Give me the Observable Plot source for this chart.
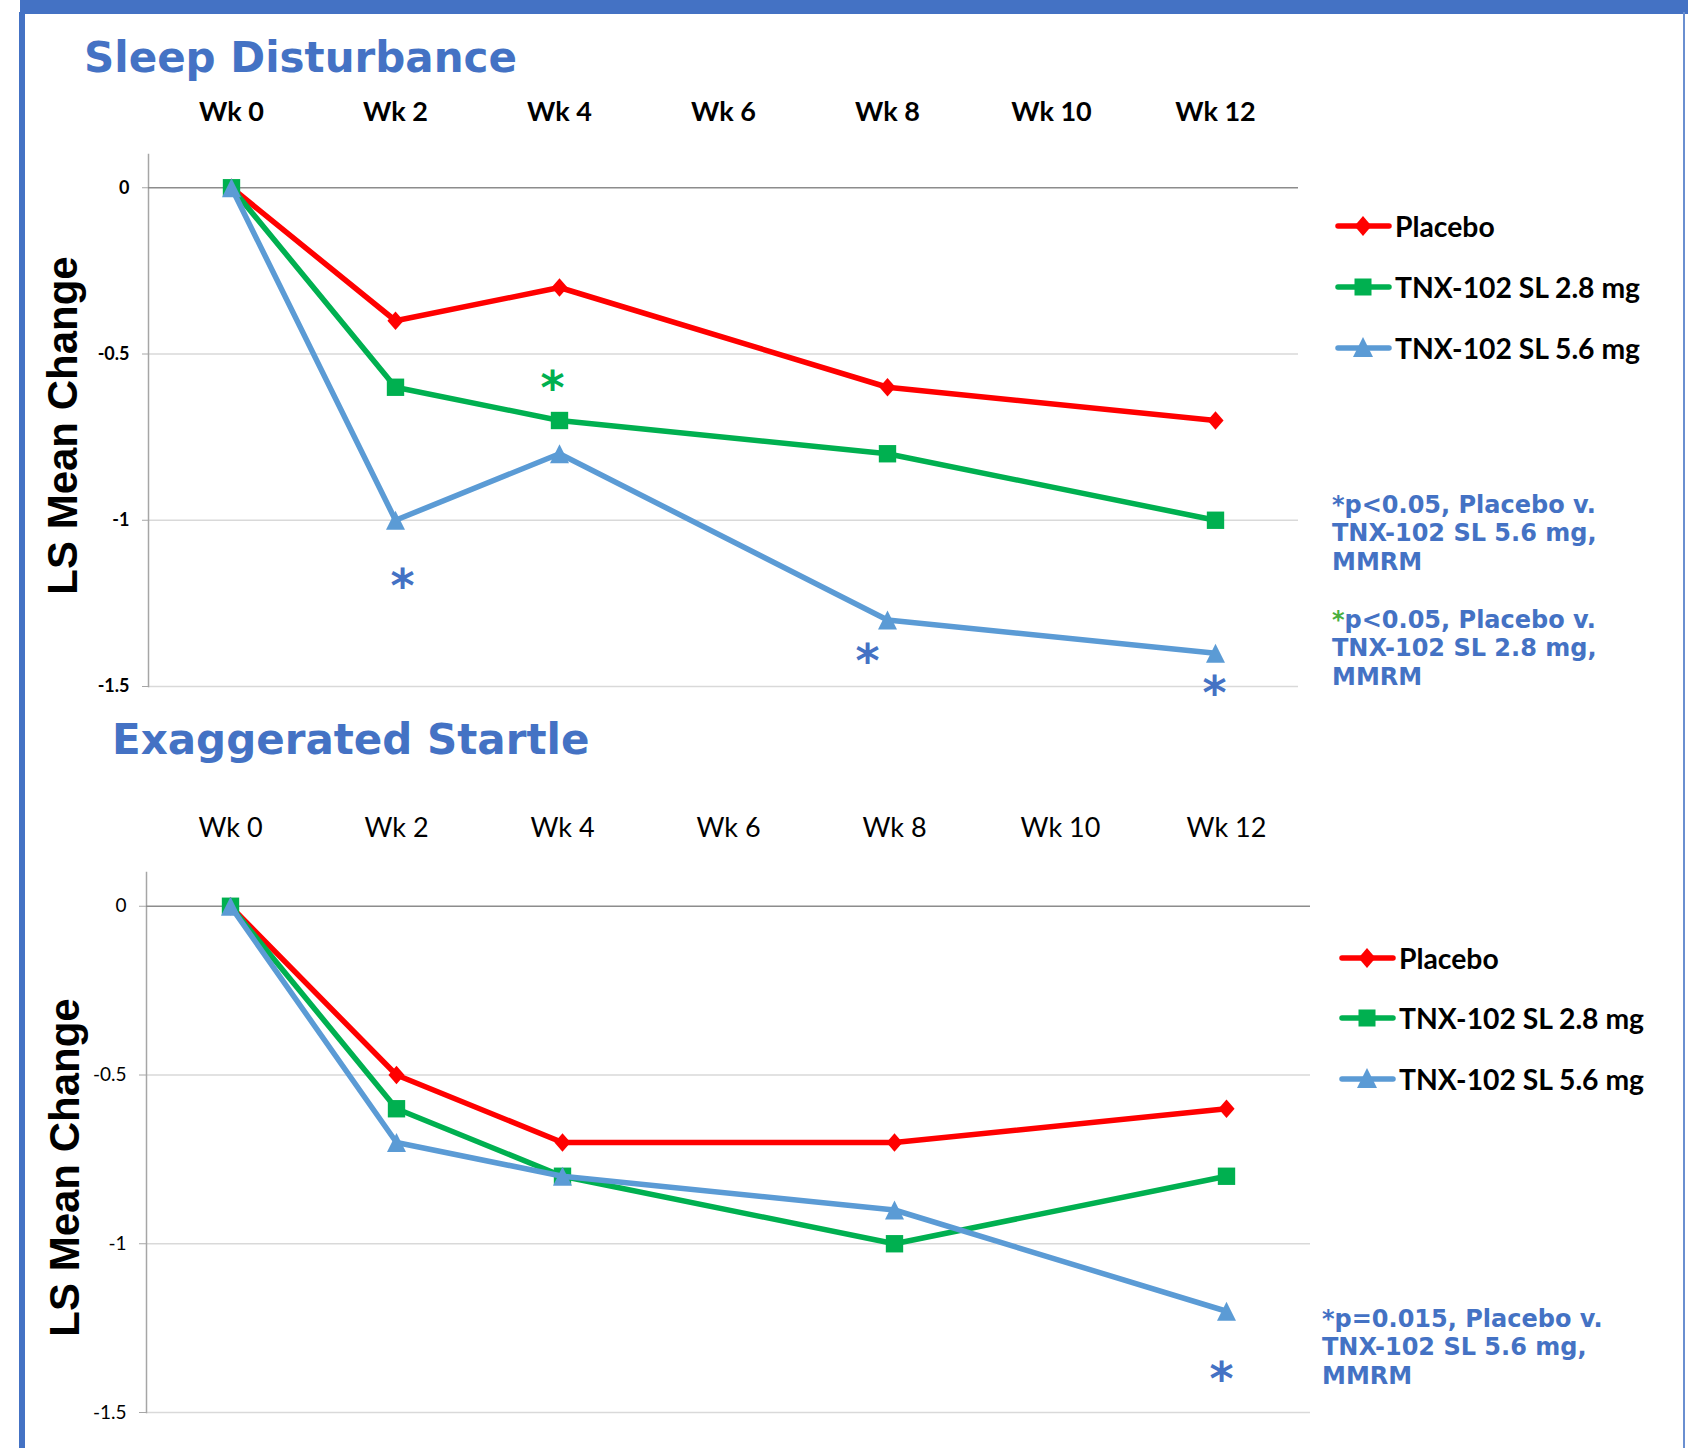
<!DOCTYPE html>
<html><head><meta charset="utf-8">
<script src="https://cdn.jsdelivr.net/npm/d3@7"></script>
<script src="https://cdn.jsdelivr.net/npm/@observablehq/plot@0.6"></script>
<style>
html,body{margin:0;padding:0;background:#fff;}
#root{position:relative;width:1688px;height:1448px;overflow:hidden;background:#fff;}
.title{position:absolute;font-family:"DejaVu Sans";font-weight:bold;color:#4472C4;font-size:42px;line-height:42px;white-space:nowrap;}
.leg{position:absolute;font-family:Lato;font-weight:bold;font-size:28.3px;color:#000;display:flex;align-items:center;height:36px;line-height:36px;white-space:nowrap;}
.leg svg{margin-right:3px;}
.note{position:absolute;font-family:"DejaVu Sans";font-weight:bold;font-size:24px;color:#4472C4;line-height:28.5px;white-space:nowrap;}
svg.plot{position:absolute;left:0;}
</style></head><body><div id="root"></div>
<script>
// ---- data ----
const weeks = ["Wk 0","Wk 2","Wk 4","Wk 6","Wk 8","Wk 10","Wk 12"];
const dataWeeks = ["Wk 0","Wk 2","Wk 4","Wk 8","Wk 12"];
const seriesNames = ["Placebo","TNX-102 SL 2.8 mg","TNX-102 SL 5.6 mg"];
const yTicks = [0,-0.5,-1,-1.5];

const sleepPlacebo = [0,-0.4,-0.3,-0.6,-0.7];
const sleep28 = [0,-0.6,-0.7,-0.8,-1.0];
const sleep56 = [0,-1.0,-0.8,-1.3,-1.4];

const startlePlacebo = [0,-0.5,-0.7,-0.7,-0.6];
const startle28 = [0,-0.6,-0.8,-1.0,-0.8];
const startle56 = [0,-0.7,-0.8,-0.9,-1.2];

const sleepStarWeeks = ["Wk 4","Wk 2","Wk 8","Wk 12"];
const sleepStarValues = [-0.586,-1.179,-1.407,-1.503];
const sleepStarSeries = [1,2,2,2];
const startleStarWeeks = ["Wk 12"];
const startleStarValues = [-1.383];
const startleStarSeries = [2];

const sleepNotes = [
  ["*p<0.05, Placebo v.","TNX-102 SL 5.6 mg,","MMRM"],
  ["*p<0.05, Placebo v.","TNX-102 SL 2.8 mg,","MMRM"]
];
const startleNotes = [["*p=0.015, Placebo v.","TNX-102 SL 5.6 mg,","MMRM"]];

// ---- styles ----
const colors = ["#FF0000","#00B050","#5B9BD5"];
const starColors = ["#FF0000","#00B050","#4472C4"];
const isoTriangle = {draw(ctx, size) {
  const s = Math.sqrt(size);
  ctx.moveTo(0, -s / 2); ctx.lineTo(s / 2, s / 2); ctx.lineTo(-s / 2, s / 2); ctx.closePath();
}};
const excelDiamond = {draw(ctx, size) {
  const s = Math.sqrt(size);
  const w = s * 0.48, h = s * 0.55;
  ctx.moveTo(0, -h); ctx.lineTo(w, 0); ctx.lineTo(0, h); ctx.lineTo(-w, 0); ctx.closePath();
}};
const symbols = [excelDiamond, "square", isoTriangle];
const symbolR = [9.5, 9.8, 10.7];

const root = document.getElementById("root");
function div(cls, html, css) {
  const d = document.createElement("div");
  if (cls) d.className = cls;
  d.innerHTML = html;
  Object.assign(d.style, css);
  root.appendChild(d);
  return d;
}

// frame decorations
div("", "", {position:"absolute", left:"20px", top:"0px", width:"1668px", height:"14px", background:"#4472C4"});
div("", "", {position:"absolute", left:"19px", top:"12px", width:"6px", height:"1436px", background:"#4472C4"});
div("", "", {position:"absolute", left:"1683px", top:"12px", width:"2px", height:"1436px", background:"#6a8fd0"});

function makeChart(cfg) {
  const rows = [];
  cfg.values.forEach((vals, i) => vals.forEach((v, j) => rows.push({s: i, series: seriesNames[i], week: dataWeeks[j], value: v})));
  const marks = [
    Plot.ruleY(yTicks.filter(v => v !== 0), {stroke: "#d9d9d9", strokeWidth: 1.5}),
    Plot.frame({anchor: "left", stroke: "#a6a6a6", strokeWidth: 1.5}),
    Plot.ruleY([0], {stroke: "#8c8c8c", strokeWidth: 1.5}),
    Plot.axisY(yTicks, {tickSize: cfg.tickSize, tickPadding: 13, stroke: "#a6a6a6", fill: "#000",
      fontSize: cfg.yFont, fontWeight: cfg.weight, fontFamily: "Lato", tickFormat: d => String(d), label: null}),
    Plot.text(weeks, {x: d => d, frameAnchor: "top", dy: cfg.weekDy, lineAnchor: "middle",
      fontSize: 27, fontWeight: cfg.weight, fontFamily: "Lato", fill: "#000"}),
    Plot.text(["LS Mean Change"], {frameAnchor: "left", rotate: -90, dx: cfg.titleDx, dy: cfg.titleDy,
      textAnchor: "middle", lineAnchor: "middle", fontSize: 42, fontWeight: "bold",
      fontFamily: "Liberation Sans", fill: "#000"})
  ];
  for (let i = 0; i < 3; i++) {
    const d = rows.filter(r => r.s === i);
    marks.push(Plot.line(d, {x: "week", y: "value", stroke: colors[i], strokeWidth: 5.5, strokeLinejoin: "round"}));
    marks.push(Plot.dot(d, {x: "week", y: "value", symbol: symbols[i], fill: colors[i], r: symbolR[i]}));
  }
  cfg.starWeeks.forEach((w, k) => {
    marks.push(Plot.text([k], {x: () => w, y: () => cfg.starValues[k], text: () => "*",
      dx: cfg.starDx[k], dy: 7, lineAnchor: "middle", fontSize: 46, fontWeight: "bold",
      fontFamily: "DejaVu Sans", fill: starColors[cfg.starSeries[k]]}));
  });
  const svg = Plot.plot({
    width: 1688, height: cfg.height,
    marginTop: cfg.mt, marginBottom: cfg.mb, marginLeft: cfg.ml, marginRight: cfg.mr,
    x: {type: "point", domain: weeks, padding: 0.5, axis: null},
    y: {domain: [-1.5, 0.1]},
    style: {background: "transparent", overflow: "visible", fontFamily: "Lato"},
    marks
  });
  svg.classList.add("plot");
  svg.style.top = cfg.top + "px";
  root.appendChild(svg);
}

makeChart({
  values: [sleepPlacebo, sleep28, sleep56], top: 0, height: 724,
  mt: 154, mb: 38, ml: 148, mr: 390, tickSize: 6, yFont: 18, weight: "bold",
  weekDy: -42, titleDx: -84.5, titleDy: 5,
  starWeeks: sleepStarWeeks, starValues: sleepStarValues, starSeries: sleepStarSeries, starDx: [-7, 7, -20, -1]
});
makeChart({
  values: [startlePlacebo, startle28, startle56], top: 724, height: 724,
  mt: 148, mb: 36, ml: 146, mr: 378, tickSize: 7, yFont: 19, weight: "normal",
  weekDy: -44, titleDx: -81, titleDy: 25,
  starWeeks: startleStarWeeks, starValues: startleStarValues, starSeries: startleStarSeries, starDx: [-5]
});

// titles
div("title", "Sleep Disturbance", {left: "84px", top: "37px"});
div("title", "Exaggerated Startle", {left: "112px", top: "719px"});

// legends
function swatch(i) {
  let m;
  if (i === 0) m = `<polygon points="28,2 36.5,12 28,22 19.5,12" fill="${colors[0]}"/>`;
  else if (i === 1) m = `<rect x="19.5" y="3.5" width="17" height="17" fill="${colors[1]}"/>`;
  else m = `<polygon points="28,1 38,21 18,21" fill="${colors[2]}"/>`;
  return `<svg width="57" height="24" viewBox="0 0 57 24"><line x1="3" y1="12" x2="54" y2="12" stroke="${colors[i]}" stroke-width="5.5" stroke-linecap="round"/>${m}</svg>`;
}
function legend(x, ys) {
  seriesNames.forEach((s, i) => div("leg", swatch(i) + `<span>${s}</span>`, {left: x + "px", top: (ys[i] - 18) + "px"}));
}
legend(1335, [226, 287, 348]);
legend(1339, [958, 1018, 1079]);

// notes
function esc(t){ return t.replace(/&/g,"&amp;").replace(/</g,"&lt;"); }
function note(lines, x, yCenter, starColor) {
  const html = lines.map((l, i) => {
    let t = esc(l);
    if (i === 0 && starColor) t = `<span style="color:${starColor}">*</span>` + t.slice(1);
    return t;
  }).join("<br>");
  div("note", html, {left: x + "px", top: (yCenter - 14.25) + "px"});
}
note(sleepNotes[0], 1332, 505, null);
note(sleepNotes[1], 1332, 620, "#4aaf3f");
note(startleNotes[0], 1322, 1319, null);
</script>
</body></html>
